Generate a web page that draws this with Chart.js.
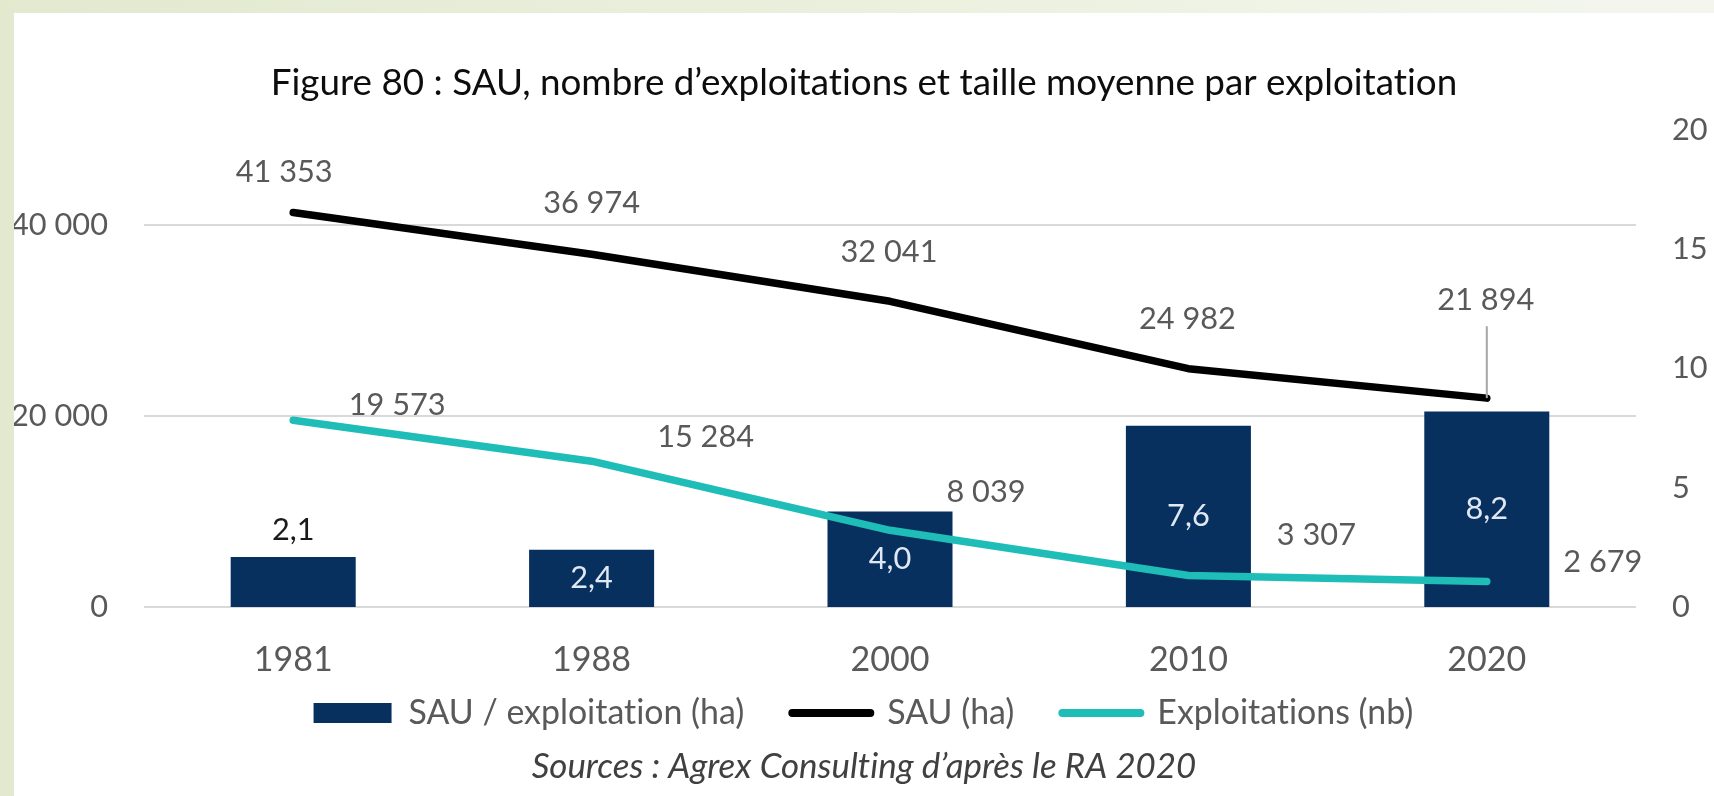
<!DOCTYPE html>
<html>
<head>
<meta charset="utf-8">
<script src="https://cdn.jsdelivr.net/npm/chart.js@4/dist/chart.umd.min.js"></script>
<style>
  html, body { margin: 0; padding: 0; width: 1714px; height: 796px; overflow: hidden;
    background: linear-gradient(90deg, #e2e9cf 0%, #e8eed9 35%, #f4f6ee 100%); }
  #wrap { position: absolute; left: 14px; top: 13px; width: 1700px; height: 783px; background: #ffffff; }
  canvas { display: block; }
</style>
</head>
<body>
<div id="wrap"><canvas id="c" width="1700" height="783"></canvas></div>
<script>
// ---------- data ----------
const categories = ['1981', '1988', '2000', '2010', '2020'];
const sauParExploitation = [2.1, 2.4, 4.0, 7.6, 8.2];
const sau = [41353, 36974, 32041, 24982, 21894];
const exploitations = [19573, 15284, 8039, 3307, 2679];
const leftTicks = [0, 20000, 40000];
const rightTicks = [0, 5, 10, 15, 20];
const seriesNames = ['SAU / exploitation (ha)', 'SAU (ha)', 'Exploitations (nb)'];
const titleText = 'Figure 80 : SAU, nombre d’exploitations et taille moyenne par exploitation';
const sourceText = 'Sources : Agrex Consulting d’après le RA 2020';

// ---------- style / layout ----------
const FAMILY = "Lato, 'Open Sans', 'Liberation Sans', sans-serif";
const GREY = '#595959';
const NAVY = '#07305f';
const TEAL = '#1fbdb8';
const W = 1700, H = 783;
const L = { chartLeft: 130, chartRight: 1622, chartTop: 117, chartBottom: 594,
            titleY: 70, xLabelY: 647, legendY: 700, sourceY: 754 };
// label offsets relative to each point (px)
const sauLabelDx = [-9, 0, -1, -1, -1];
const sauLabelDy = [-40, -51, -49, -50, -98];
const sauLeader  = [false, false, false, false, true];
const expLabelDx = [104, 114, 96, 128, 116];
const expLabelDy = [-15, -24, -38, -40, -19];
const barLabelPlace = ['end', 'center', 'center', 'center', 'center'];

const fmtThousands = v => String(Math.round(v)).replace(/\B(?=(\d{3})+(?!\d))/g, ' ');
const fmtDecimal = v => v.toFixed(1).replace('.', ',');

function fitSize(text, target, style) {
  const c = document.createElement('canvas').getContext('2d');
  if ('textRendering' in c) c.textRendering = 'optimizeSpeed';
  c.font = (style || 'normal') + ' 100px ' + FAMILY;
  return 100 * target / c.measureText(text).width;
}

const noLigaturePlugin = {
  id: 'noLigatures',
  beforeInit(chart) { if ('textRendering' in chart.ctx) chart.ctx.textRendering = 'optimizeSpeed'; },
  beforeDraw(chart) { if ('textRendering' in chart.ctx) chart.ctx.textRendering = 'optimizeSpeed'; }
};

const valueLabelPlugin = {
  id: 'valueLabels',
  afterDatasetsDraw(chart) {
    const ctx = chart.ctx;
    chart.data.datasets.forEach((ds, di) => {
      const cfg = ds.valueLabels;
      if (!cfg) return;
      const meta = chart.getDatasetMeta(di);
      meta.data.forEach((el, i) => {
        const text = cfg.format(ds.data[i]);
        let x = el.x, y, color = cfg.color;
        if (meta.type === 'bar') {
          if (cfg.place[i] === 'end') { y = el.y + cfg.endOffset; color = cfg.outsideColor; }
          else { y = (el.y + el.base) / 2; color = cfg.insideColor; }
        } else {
          x += cfg.dx[i];
          y = el.y + cfg.dy[i];
        }
        ctx.save();
        if (cfg.leader && cfg.leader[i]) {
          ctx.strokeStyle = '#a6a6a6';
          ctx.lineWidth = 2;
          ctx.beginPath();
          ctx.moveTo(el.x, y + cfg.size * 0.85);
          ctx.lineTo(el.x, el.y);
          ctx.stroke();
        }
        ctx.font = 'normal ' + cfg.size + 'px ' + FAMILY;
        ctx.fillStyle = color;
        ctx.textAlign = 'center';
        ctx.textBaseline = 'middle';
        ctx.fillText(text, x, y);
        ctx.restore();
      });
    });
  }
};

function build() {
  const titleSize = fitSize(titleText, 1187, 'normal');
  const sourceSize = fitSize(sourceText, 665, 'italic');
  const legendSize = fitSize(seriesNames[0], 336, 'normal');
  const xTickSize = fitSize('1981', 79, 'normal');
  const labelSize = fitSize('19 573', 97, 'normal');
  const axisSize = fitSize('20 000', 97, 'normal');

  const titleLH = titleSize * 1.2;
  const titlePadTop = L.titleY - titleLH / 2;
  const titlePadBottom = L.chartTop - titlePadTop - titleLH;

  const legendPad = 48;
  const legendTop = L.legendY - legendPad - legendSize / 2;
  const legendHeight = legendSize + legendPad + 10;
  const xAxisHeight = legendTop - L.chartBottom;
  const xLH = xTickSize * 1.2;
  const xTickPad = (L.xLabelY - L.chartBottom) - xLH / 2;

  const srcLH = sourceSize * 1.2;
  const srcTop = legendTop + legendHeight;
  const srcPadTop = L.sourceY - srcTop - srcLH / 2;
  const srcPadBottom = H - srcTop - srcPadTop - srcLH;

  const axisFont = { family: FAMILY, size: axisSize };

  new Chart(document.getElementById('c'), {
    type: 'bar',
    data: {
      labels: categories,
      datasets: [
        {
          type: 'bar', label: seriesNames[0], data: sauParExploitation, yAxisID: 'y1',
          backgroundColor: NAVY, borderWidth: 0, categoryPercentage: 1, barPercentage: 0.419, order: 2,
          valueLabels: { format: fmtDecimal, size: labelSize, place: barLabelPlace, endOffset: -27,
                         outsideColor: '#1a1a1a', insideColor: '#dfe8f3' }
        },
        {
          type: 'line', label: seriesNames[1], data: sau, yAxisID: 'y',
          borderColor: '#000000', backgroundColor: '#000000', borderWidth: 7.5, pointRadius: 0,
          tension: 0, borderCapStyle: 'round', borderJoinStyle: 'round', order: 1,
          valueLabels: { format: fmtThousands, size: labelSize, color: GREY, dx: sauLabelDx, dy: sauLabelDy, leader: sauLeader }
        },
        {
          type: 'line', label: seriesNames[2], data: exploitations, yAxisID: 'y',
          borderColor: TEAL, backgroundColor: TEAL, borderWidth: 7.5, pointRadius: 0,
          tension: 0, borderCapStyle: 'round', borderJoinStyle: 'round', order: 1,
          valueLabels: { format: fmtThousands, size: labelSize, color: GREY, dx: expLabelDx, dy: expLabelDy }
        }
      ]
    },
    options: {
      responsive: false,
      animation: false,
      devicePixelRatio: 1,
      layout: { padding: 0 },
      scales: {
        x: {
          grid: { display: false, drawTicks: false },
          border: { display: false },
          ticks: { color: GREY, font: { family: FAMILY, size: xTickSize }, padding: xTickPad, maxRotation: 0 },
          afterFit(scale) {
            scale.height = xAxisHeight;
            // labels sit in the space shared with the legend padding: do not clip them to the axis box
            scale._computeLabelArea = () => undefined;
          }
        },
        y: {
          position: 'left', min: 0, max: 50000,
          grid: { color: '#d9d9d9', lineWidth: 2, drawTicks: false },
          border: { display: false },
          ticks: { color: GREY, font: axisFont, padding: 36, callback: v => fmtThousands(v) },
          afterBuildTicks(scale) { scale.ticks = leftTicks.map(v => ({ value: v })); },
          afterFit(scale) { scale.width = L.chartLeft; }
        },
        y1: {
          position: 'right', min: 0, max: 20,
          grid: { display: false, drawOnChartArea: false, drawTicks: false },
          border: { display: false },
          ticks: { color: GREY, font: axisFont, padding: 36 },
          afterBuildTicks(scale) { scale.ticks = rightTicks.map(v => ({ value: v })); },
          afterFit(scale) { scale.width = W - L.chartRight; }
        }
      },
      plugins: {
        tooltip: { enabled: false },
        title: {
          display: true, text: titleText, color: '#0d0d0d',
          font: { family: FAMILY, size: titleSize, weight: 'normal', lineHeight: 1.2 },
          padding: { top: titlePadTop, bottom: titlePadBottom }
        },
        subtitle: {
          display: true, position: 'bottom', text: sourceText, color: '#404040',
          font: { family: FAMILY, size: sourceSize, style: 'italic', weight: 'normal', lineHeight: 1.2 },
          padding: { top: srcPadTop, bottom: srcPadBottom }
        },
        legend: {
          display: true, position: 'bottom', align: 'center',
          labels: {
            usePointStyle: true, pointStyleWidth: 78, boxHeight: 20, padding: legendPad,
            color: GREY, font: { family: FAMILY, size: legendSize },
            sort: (a, b) => a.datasetIndex - b.datasetIndex,
            generateLabels(chart) {
              return chart.data.datasets.map((ds, i) => ({
                text: ds.label,
                datasetIndex: i,
                hidden: false,
                fillStyle: ds.type === 'bar' ? ds.backgroundColor : ds.borderColor,
                strokeStyle: ds.type === 'bar' ? ds.backgroundColor : ds.borderColor,
                lineWidth: ds.type === 'bar' ? 0 : 8,
                lineCap: 'round',
                pointStyle: ds.type === 'bar' ? 'rect' : 'line',
                fontColor: GREY
              }));
            }
          }
        }
      }
    },
    plugins: [noLigaturePlugin, valueLabelPlugin]
  });
}

const fontReady = (document.fonts && document.fonts.load)
  ? Promise.all([document.fonts.load('30px Lato'), document.fonts.load('italic 30px Lato')])
  : Promise.resolve();
fontReady.then(build, build);
</script>
</body>
</html>
